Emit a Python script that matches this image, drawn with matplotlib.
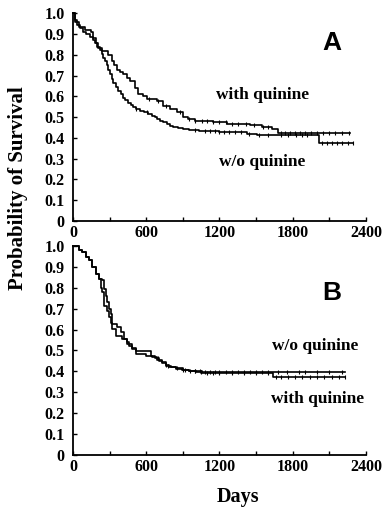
import numpy as np
import matplotlib
matplotlib.use("Agg")
import matplotlib.pyplot as plt

# panel A (days, survival), step curves
t_a_with = [0, 20, 50, 100, 145, 167, 190, 207, 235, 289, 317, 340, 358, 385, 412, 440, 467, 508, 535, 570,
            603, 685, 740, 794, 849, 904, 945, 999, 1067, 1149, 1259, 1450, 1545, 1627, 1682, 2269]
s_a_with = [1.0, 0.96, 0.937, 0.921, 0.913, 0.881, 0.86, 0.833, 0.817, 0.80, 0.77, 0.75, 0.73, 0.72, 0.706, 0.69,
            0.675, 0.643, 0.611, 0.60, 0.587, 0.579, 0.556, 0.54, 0.524, 0.50, 0.492, 0.484, 0.481, 0.475,
            0.467, 0.462, 0.451, 0.443, 0.426, 0.426]

t_a_wo = [0, 15, 30, 60, 85, 110, 139, 160, 180, 200, 221, 235, 248, 262, 276, 290, 303, 317, 330, 350,
          371, 390, 412, 430, 453, 475, 494, 520, 549, 580, 617, 645, 672, 690, 713, 740, 767, 795, 822, 860,
          904, 950, 986, 1030, 1067, 1200, 1422, 1504, 2017, 2293]
s_a_wo = [1.0, 0.97, 0.944, 0.93, 0.913, 0.90, 0.889, 0.873, 0.857, 0.84, 0.825, 0.805, 0.786, 0.77, 0.754,
          0.73, 0.706, 0.685, 0.667, 0.645, 0.627, 0.61, 0.595, 0.583, 0.571, 0.56, 0.548, 0.54, 0.532, 0.524,
          0.516, 0.508, 0.50, 0.492, 0.484, 0.476, 0.468, 0.46, 0.452, 0.448, 0.444, 0.44, 0.437, 0.435,
          0.433, 0.427, 0.42, 0.414, 0.376, 0.376]

# panel B
t_b_wo = [0, 49, 76, 104, 131, 158, 186, 213, 240, 254, 268, 281, 295, 308, 322, 363, 390, 418, 440, 459,
          480, 513, 636, 670, 704, 730, 759, 800, 841, 900, 950, 1000, 1059, 1250, 2228]
s_b_wo = [1.0, 0.98, 0.971, 0.947, 0.931, 0.90, 0.867, 0.843, 0.835, 0.795, 0.76, 0.731, 0.70, 0.675, 0.627,
          0.611, 0.587, 0.555, 0.54, 0.523, 0.51, 0.499, 0.475, 0.463, 0.451, 0.44, 0.427, 0.42, 0.414,
          0.408, 0.403, 0.40, 0.398, 0.396, 0.396]

t_b_with = [0, 49, 76, 104, 131, 158, 186, 213, 227, 240, 254, 275, 295, 310, 322, 349, 404, 445, 486, 513,
            595, 650, 690, 732, 760, 786, 840, 896, 950, 1005, 1059, 1300, 1640, 2228]
s_b_with = [1.0, 0.98, 0.971, 0.947, 0.931, 0.90, 0.867, 0.843, 0.80, 0.779, 0.715, 0.69, 0.659, 0.63, 0.603,
            0.571, 0.555, 0.531, 0.507, 0.483, 0.475, 0.467, 0.455, 0.443, 0.43, 0.419, 0.413, 0.408, 0.40,
            0.395, 0.392, 0.39, 0.372, 0.372]

# censored observations (days)
cens_a_with = [620, 700, 760, 880, 950, 1000, 1060, 1100, 1150, 1200, 1250, 1300, 1350, 1420, 1480, 1560,
               1600, 1700, 1740, 1780, 1820, 1860, 1900, 1950, 2000, 2050, 2100, 2150, 2200, 2260]
cens_a_wo = [520, 610, 1000, 1080, 1120, 1160, 1200, 1240, 1280, 1330, 1380, 1440, 1520, 1600, 1700, 1760,
             1830, 1880, 1920, 2040, 2080, 2120, 2160, 2200, 2250, 2290]
cens_b_wo = [700, 780, 850, 920, 960, 1000, 1040, 1080, 1120, 1160, 1200, 1250, 1300, 1350, 1400, 1450,
             1500, 1550, 1600, 1680, 1750, 1850, 1900, 2000, 2100, 2200]
cens_b_with = [760, 900, 1000, 1050, 1100, 1150, 1200, 1300, 1400, 1500, 1600, 1660, 1700, 1760, 1820,
               1880, 1940, 2000, 2060, 2120, 2180, 2228]

serif = "Liberation Serif"
sans = "Liberation Sans"


def surv_at(t, s, x):
    idx = np.searchsorted(t, x, side="right") - 1
    return np.array(s)[idx]


def km(ax, t, s, cens):
    ax.step(t, s, where="post", color="black", lw=1.2, clip_on=False)
    ax.plot(cens, surv_at(t, s, cens), ls="none", marker="|", ms=3, mew=0.8, color="black")


def style(ax):
    ax.set_xlim(0, 2400)
    ax.set_ylim(0, 1)
    for side in ["top", "right"]:
        ax.spines[side].set_visible(False)
    for side in ["left", "bottom"]:
        ax.spines[side].set_linewidth(1.3)
    ax.set_xticks([0, 600, 1200, 1800, 2400])
    ax.set_xticks([300, 900, 1500, 2100], minor=True)
    ax.set_yticks(np.arange(0, 1.01, 0.1))
    ax.set_yticklabels(["0"] + ["%.1f" % v for v in np.arange(0.1, 1.01, 0.1)])
    ax.tick_params(which="both", direction="in", length=3, width=1)
    ax.tick_params(axis="x", pad=3)
    ax.tick_params(axis="y", pad=6)
    for lab in ax.get_xticklabels() + ax.get_yticklabels():
        lab.set_fontfamily(serif)
        lab.set_fontweight("bold")
        lab.set_fontsize(11.5)


fig = plt.figure(figsize=(3.92, 5.07), dpi=100)
ax1 = fig.add_axes([0.1862, 0.5641, 0.7474, 0.4093])
ax2 = fig.add_axes([0.1862, 0.1026, 0.7474, 0.4122])

km(ax1, t_a_with, s_a_with, cens_a_with)
km(ax1, t_a_wo, s_a_wo, cens_a_wo)
style(ax1)
ax1.text(2121, 0.858, "A", family=sans, weight="bold", fontsize=19, ha="center", va="center")
ax1.text(1556, 0.607, "with quinine", family=serif, weight="bold", fontsize=12.5, ha="center", va="center")
ax1.text(1552, 0.284, "w/o quinine", family=serif, weight="bold", fontsize=12.5, ha="center", va="center")

km(ax2, t_b_wo, s_b_wo, cens_b_wo)
km(ax2, t_b_with, s_b_with, cens_b_with)
style(ax2)
ax2.text(2121, 0.775, "B", family=sans, weight="bold", fontsize=19, ha="center", va="center")
ax2.text(1982, 0.52, "w/o quinine", family=serif, weight="bold", fontsize=12.5, ha="center", va="center")
ax2.text(2000, 0.268, "with quinine", family=serif, weight="bold", fontsize=12.5, ha="center", va="center")

fig.text(0.046, 0.629, "Probability of Survival", family=serif, weight="bold", fontsize=15,
         rotation=90, ha="center", va="center")
fig.text(0.607, 0.02, "Days", family=serif, weight="bold", fontsize=14.5, ha="center", va="center")

fig.savefig("out.png", dpi=100)
